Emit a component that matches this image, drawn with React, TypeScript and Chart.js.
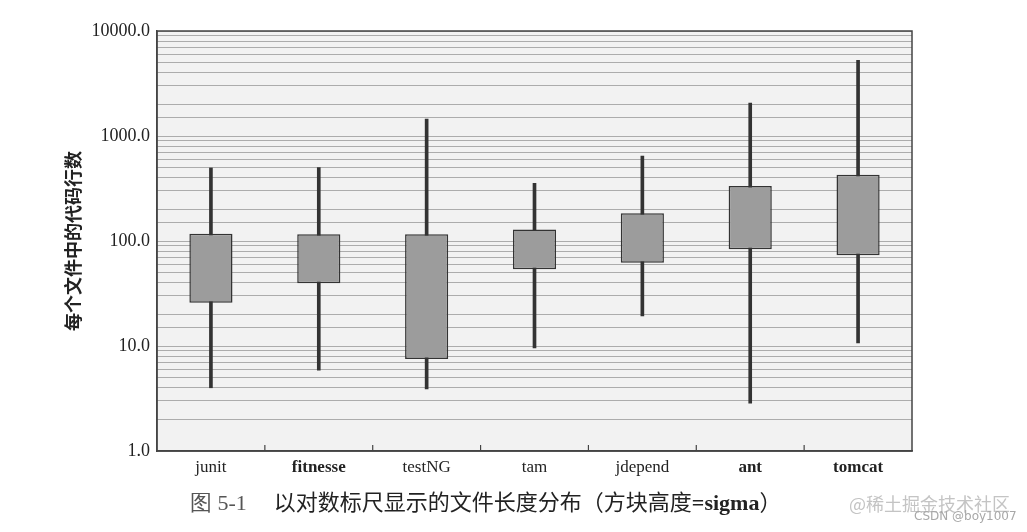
import React, { useEffect, useRef } from "react";
import { Chart, registerables } from "chart.js";

Chart.register(...registerables);

const categories = ["junit", "fitnesse", "testNG", "tam", "jdepend", "ant", "tomcat"];
const boldLabels = [false, true, false, false, false, true, true];
const whiskerLow = [4.0, 5.9, 3.9, 9.6, 19.3, 2.85, 10.7];
const boxLow = [25.8, 39.5, 7.5, 53.7, 62, 83.4, 73];
const boxHigh = [117, 116, 116, 129, 184, 334, 428];
const whiskerHigh = [496, 500, 1450, 354, 645, 2060, 5250];
const yMin = 1;
const yMax = 10000;
const yTitle = "每个文件中的代码行数";
const captionNo = "图 5-1";
const captionText = "以对数标尺显示的文件长度分布（方块高度";
const captionSigma = "=sigma";
const captionEnd = "）";

const framePlugin = {
  id: "frame",
  beforeDraw(chart: any) {
    const { ctx, chartArea } = chart;
    ctx.save();
    ctx.fillStyle = "#f2f2f2";
    ctx.fillRect(chartArea.left, chartArea.top, chartArea.right - chartArea.left, chartArea.bottom - chartArea.top);
    ctx.restore();
  },
  afterDraw(chart: any) {
    const { ctx, chartArea, scales } = chart;
    ctx.save();
    ctx.strokeStyle = "#444";
    ctx.lineWidth = 1.5;
    ctx.strokeRect(chartArea.left, chartArea.top, chartArea.right - chartArea.left, chartArea.bottom - chartArea.top);
    const x = scales.x;
    ctx.lineWidth = 1.2;
    for (let i = 0; i < categories.length - 1; i++) {
      const px = (x.getPixelForValue(i) + x.getPixelForValue(i + 1)) / 2;
      ctx.beginPath();
      ctx.moveTo(px, chartArea.bottom);
      ctx.lineTo(px, chartArea.bottom - 6);
      ctx.stroke();
    }
    ctx.restore();
  },
};

export default function App() {
  const ref = useRef<HTMLCanvasElement | null>(null);
  useEffect(() => {
    if (!ref.current) return;
    const chart = new Chart(ref.current, {
      type: "bar",
      data: {
        labels: categories,
        datasets: [
          {
            label: "whisker",
            data: categories.map((_, i) => [whiskerLow[i], whiskerHigh[i]]) as any,
            backgroundColor: "#333333",
            borderWidth: 0,
            barThickness: 3,
            order: 2,
          },
          {
            label: "box",
            data: categories.map((_, i) => [boxLow[i], boxHigh[i]]) as any,
            backgroundColor: "#9c9c9c",
            borderColor: "#333333",
            borderWidth: 1.5,
            borderSkipped: false,
            barPercentage: 0.4,
            categoryPercentage: 1,
            order: 1,
          },
        ],
      },
      options: {
        responsive: false,
        animation: false,
        grouped: false,
        layout: { padding: { top: 31, right: 115, bottom: 0, left: 0 } },
        plugins: { legend: { display: false }, tooltip: { enabled: false }, title: { display: false } },
        scales: {
          x: {
            grid: { display: false, drawTicks: false },
            border: { display: true, color: "#444", width: 1.5 },
            ticks: {
              padding: 6,
              color: "#222",
              font: (ctx: any) => ({
                family: "'Liberation Serif', serif",
                size: 17,
                weight: boldLabels[ctx.index] ? "bold" : "normal",
              }),
            },
            afterFit: (s: any) => {
              s.height = 81;
            },
          },
          y: {
            type: "logarithmic",
            min: yMin,
            max: yMax,
            grid: { color: "#666", lineWidth: 1, drawTicks: false },
            border: { display: true, color: "#444", width: 1.5, dash: [1, 1] },
            ticks: {
              autoSkip: false,
              padding: 7,
              color: "#222",
              font: { family: "'Liberation Serif', serif", size: 18 },
              callback: (v: any) => {
                const n = Number(v);
                const l = Math.log10(n);
                return Math.abs(l - Math.round(l)) < 1e-9 ? n.toFixed(1) : "";
              },
            },
            title: {
              display: true,
              text: yTitle,
              color: "#222",
              font: { family: "'Noto Sans CJK SC', sans-serif", size: 18, weight: "bold" },
              padding: { top: 62, bottom: 0 },
            },
            afterFit: (s: any) => {
              s.width = 157;
            },
          },
        },
      } as any,
      plugins: [framePlugin],
    });
    return () => chart.destroy();
  }, []);

  return (
    <div style={{ position: "absolute", left: 0, top: 0, width: 1027, height: 532, background: "#fff", overflow: "hidden" }}>
      <canvas ref={ref} width={1027} height={532} style={{ display: "block" }} />
      <div
        style={{
          position: "absolute",
          left: 190,
          top: 486,
          fontFamily: "'Noto Sans CJK SC', sans-serif",
          fontSize: 22,
          color: "#222",
          whiteSpace: "nowrap",
          lineHeight: "28px",
        }}
      >
        <span style={{ fontFamily: "'Liberation Serif', serif", fontSize: 22, color: "#555" }}>{captionNo}</span>
        <span style={{ marginLeft: 27 }}>{captionText}</span>
        <span style={{ fontFamily: "'Liberation Serif', serif", fontWeight: "bold", fontSize: 22 }}>{captionSigma}</span>
        <span>{captionEnd}</span>
      </div>
      <div
        style={{
          position: "absolute",
          left: 849,
          top: 490,
          fontFamily: "'Noto Sans CJK SC', sans-serif",
          fontSize: 18,
          color: "#c4c4c4",
          whiteSpace: "nowrap",
        }}
      >
        @稀土掘金技术社区
      </div>
      <div
        style={{
          position: "absolute",
          left: 914,
          top: 509,
          fontFamily: "'DejaVu Sans', sans-serif",
          fontSize: 12,
          color: "#a8a8a8",
          whiteSpace: "nowrap",
        }}
      >
        CSDN @boy1007
      </div>
    </div>
  );
}
